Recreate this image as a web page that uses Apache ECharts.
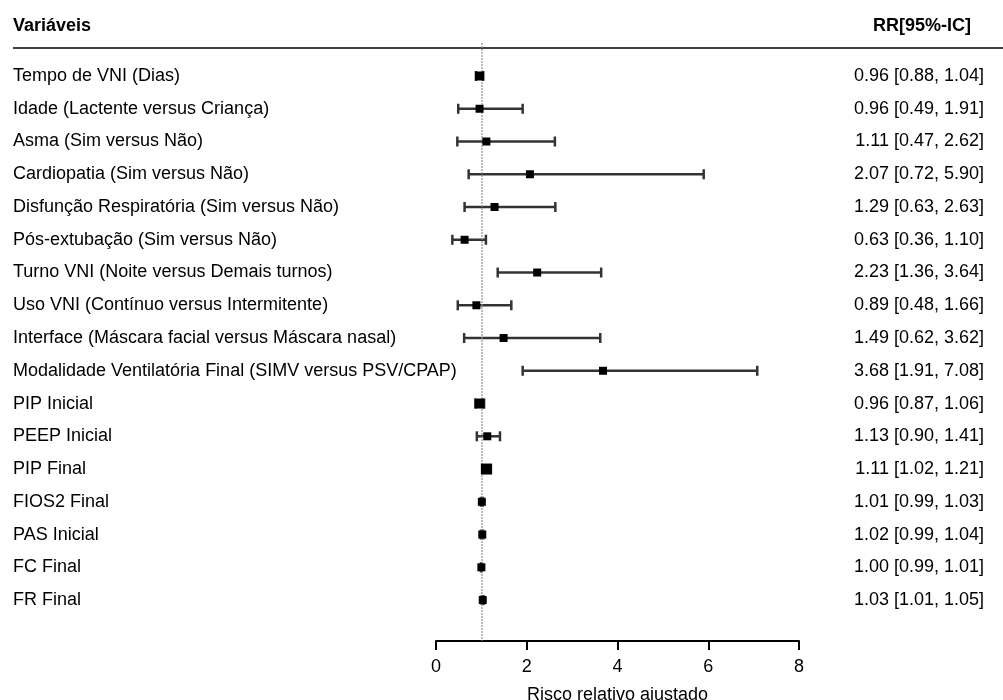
<!DOCTYPE html>
<html>
<head>
<meta charset="utf-8">
<script src="https://cdn.jsdelivr.net/npm/echarts@6/dist/echarts.min.js"></script>
<style>
  html, body { margin: 0; padding: 0; background: #fff; }
  #forest { width: 1003px; height: 700px; }
</style>
</head>
<body>
<div id="forest"></div>
<script>
// variaveis (de cima para baixo)
const variaveis = [
  'Tempo de VNI (Dias)',
  'Idade (Lactente versus Criança)',
  'Asma (Sim versus Não)',
  'Cardiopatia (Sim versus Não)',
  'Disfunção Respiratória (Sim versus Não)',
  'Pós-extubação (Sim versus Não)',
  'Turno VNI (Noite versus Demais turnos)',
  'Uso VNI (Contínuo versus Intermitente)',
  'Interface (Máscara facial versus Máscara nasal)',
  'Modalidade Ventilatória Final (SIMV versus PSV/CPAP)',
  'PIP Inicial',
  'PEEP Inicial',
  'PIP Final',
  'FIOS2 Final',
  'PAS Inicial',
  'FC Final',
  'FR Final',
];
const rr = [0.96, 0.96, 1.11, 2.07, 1.29, 0.63, 2.23, 0.89, 1.49, 3.68, 0.96, 1.13, 1.11, 1.01, 1.02, 1.00, 1.03];
const icInf = [0.88, 0.49, 0.47, 0.72, 0.63, 0.36, 1.36, 0.48, 0.62, 1.91, 0.87, 0.90, 1.02, 0.99, 0.99, 0.99, 1.01];
const icSup = [1.04, 1.91, 2.62, 5.90, 2.63, 1.10, 3.64, 1.66, 3.62, 7.08, 1.06, 1.41, 1.21, 1.03, 1.04, 1.01, 1.05];
// tamanho do quadrado (peso)
const pesos = [9, 8, 8, 8, 8, 8, 8, 8, 8, 8, 10, 8, 11, 8, 8, 8, 8];
const xTicks = [0, 2, 4, 6, 8];

const fmt = v => v.toFixed(2);
const textoIC = rr.map((v, i) => `${fmt(v)} [${fmt(icInf[i])}, ${fmt(icSup[i])}]`);

const fonte = '"Liberation Sans", Arial, sans-serif';
const myChart = echarts.init(document.getElementById('forest'));

// texto da linha i (so nos ticks inteiros)
const labelPorLinha = arr => (v) => {
  const i = Math.round(v);
  return (Math.abs(v - i) < 1e-6 && i >= 0 && i < arr.length) ? arr[i] : '';
};

const option = {
  animation: false,
  backgroundColor: '#fff',
  textStyle: { fontFamily: fonte },
  title: [
    {
      text: 'Variáveis',
      left: 8,
      top: 12,
      textStyle: { fontSize: 18, fontWeight: 'bold', color: '#000', fontFamily: fonte },
    },
    {
      text: 'RR[95%-IC]',
      right: 27,
      top: 12,
      textStyle: { fontSize: 18, fontWeight: 'bold', color: '#000', fontFamily: fonte },
    },
  ],
  graphic: [
    {
      // linha abaixo do cabecalho
      type: 'line',
      shape: { x1: 13, y1: 48, x2: 1003, y2: 48 },
      style: { stroke: '#000', lineWidth: 1.5 },
    },
  ],
  grid: {
    left: 436,
    right: 204,
    top: 43.25,
    bottom: 59,
    containLabel: false,
    outerBoundsMode: 'none',
  },
  xAxis: {
    type: 'value',
    min: xTicks[0],
    max: xTicks[xTicks.length - 1],
    interval: 2,
    splitLine: { show: false },
    axisLine: { show: true, onZero: false, lineStyle: { color: '#000', width: 2 } },
    axisTick: { show: true, length: 9, lineStyle: { color: '#000', width: 2 } },
    axisLabel: { color: '#000', fontSize: 18, margin: 17, fontFamily: fonte },
    name: 'Risco relativo ajustado',
    nameLocation: 'middle',
    nameGap: 45,
    nameTextStyle: { color: '#000', fontSize: 18, fontFamily: fonte },
  },
  yAxis: [
    {
      // nomes das variaveis (esquerda)
      type: 'value',
      inverse: true,
      min: -1,
      max: 17.25,
      interval: 1,
      position: 'left',
      splitLine: { show: false },
      axisLine: { show: false },
      axisTick: { show: false },
      axisLabel: {
        align: 'left',
        margin: 423,
        color: '#000',
        fontSize: 18,
        fontFamily: fonte,
        formatter: labelPorLinha(variaveis),
      },
    },
    {
      // RR [IC] (direita)
      type: 'value',
      inverse: true,
      min: -1,
      max: 17.25,
      interval: 1,
      position: 'right',
      splitLine: { show: false },
      axisLine: { show: false },
      axisTick: { show: false },
      axisLabel: {
        align: 'right',
        margin: 185,
        color: '#000',
        fontSize: 18,
        fontFamily: fonte,
        formatter: labelPorLinha(textoIC),
      },
    },
  ],
  series: [
    {
      // intervalos de confianca
      type: 'custom',
      yAxisIndex: 0,
      data: rr.map((v, i) => [icInf[i], icSup[i], i]),
      renderItem: (params, api) => {
        const a = api.coord([api.value(0), api.value(2)]);
        const b = api.coord([api.value(1), api.value(2)]);
        const cap = 5;
        const estilo = { stroke: '#333', lineWidth: 2.5 };
        return {
          type: 'group',
          children: [
            { type: 'line', shape: { x1: a[0], y1: a[1], x2: b[0], y2: b[1] }, style: estilo },
            { type: 'line', shape: { x1: a[0], y1: a[1] - cap, x2: a[0], y2: a[1] + cap }, style: estilo },
            { type: 'line', shape: { x1: b[0], y1: b[1] - cap, x2: b[0], y2: b[1] + cap }, style: estilo },
          ],
        };
      },
      markLine: {
        silent: true,
        symbol: 'none',
        label: { show: false },
        lineStyle: { color: '#888', type: 'dotted', width: 1.5 },
        data: [{ xAxis: 1 }],
      },
      z: 1,
    },
    {
      // estimativas pontuais
      type: 'scatter',
      yAxisIndex: 0,
      symbol: 'rect',
      data: rr.map((v, i) => ({ value: [v, i], symbolSize: pesos[i] })),
      itemStyle: { color: '#000', opacity: 1 },
      z: 5,
    },
  ],
};

myChart.setOption(option);
</script>
</body>
</html>
